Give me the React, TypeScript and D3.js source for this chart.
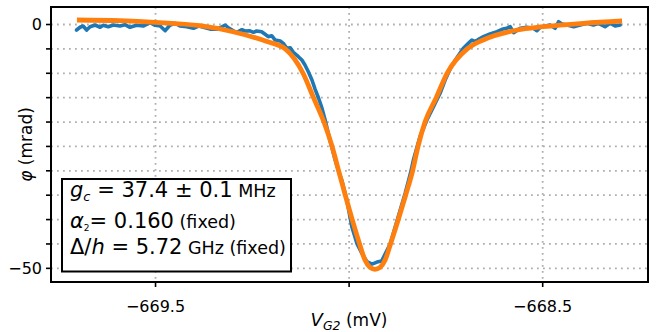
import React from "react";
import * as d3 from "d3";

// Measured phase response (blue)
const measX = [
  -669.704, -669.695, -669.687, -669.678, -669.669, -669.656, -669.643, -669.635, -669.622, -669.609,
  -669.592, -669.579, -669.566, -669.549, -669.532, -669.514, -669.501, -669.488, -669.475, -669.463,
  -669.450, -669.437, -669.419, -669.402, -669.389, -669.376, -669.359, -669.342, -669.333, -669.320,
  -669.312, -669.299, -669.290, -669.277, -669.269, -669.256, -669.247, -669.239, -669.226, -669.217,
  -669.209, -669.200, -669.191, -669.178, -669.170, -669.161, -669.152, -669.144, -669.131, -669.122,
  -669.114, -669.105, -669.096, -669.088, -669.079, -669.071, -669.062, -669.049, -669.036, -669.025,
  -669.019, -669.006, -668.993, -668.980, -668.967, -668.954, -668.941, -668.928, -668.916, -668.907,
  -668.894, -668.881, -668.868, -668.855, -668.842, -668.834, -668.817, -668.799, -668.782, -668.765,
  -668.752, -668.739, -668.722, -668.705, -668.692, -668.683, -668.674, -668.666, -668.653, -668.636,
  -668.618, -668.605, -668.593, -668.584, -668.575, -668.558, -668.541, -668.524, -668.515, -668.506,
  -668.494, -668.481, -668.468, -668.459, -668.450, -668.437, -668.420, -668.403, -668.386, -668.369,
  -668.356, -668.339, -668.326, -668.313, -668.300,
];
const measPhi = [
  -1.13, -0.57, -0.31, -1.13, -0.45, -0.10, -0.57, -0.16, -0.45, -0.10,
  -0.31, -0.04, -0.57, -0.16, -0.31, 0.37, -0.16, -0.31, -1.27, -0.16,
  0.25, -0.31, -0.45, -0.78, -0.31, -0.57, -0.95, -0.98, -0.66, -0.10,
  -0.66, -1.30, -1.60, -1.07, -1.33, -1.30, -1.60, -1.33, -1.48, -2.01,
  -2.50, -2.30, -3.18, -3.38, -3.86, -4.88, -4.76, -5.70, -6.60, -7.28,
  -8.31, -9.74, -11.38, -13.23, -15.07, -16.92, -19.59, -23.89, -27.79, -30.66,
  -31.89, -36.00, -41.47, -44.87, -46.92, -48.65, -49.12, -48.71, -48.51, -47.07,
  -45.02, -41.53, -38.04, -34.56, -30.66, -27.79, -23.01, -19.59, -16.86, -14.11,
  -11.38, -9.13, -6.87, -4.88, -3.86, -3.18, -3.53, -3.04, -2.50, -1.95,
  -1.48, -0.98, -0.78, -0.45, -1.68, -0.78, -0.57, -0.78, -1.27, -0.57,
  -0.31, -0.10, -0.78, 0.57, 0.10, -0.10, -0.45, -0.10, 0.25, -0.10,
  0.25, -0.45, 0.25, -0.31, -0.10,
];

// Fit (orange)
const fitX = [
  -669.703, -669.592, -669.500, -669.385, -669.300, -669.212, -669.165, -669.119, -669.092, -669.065,
  -669.044, -669.027, -669.010, -668.992, -668.973, -668.959, -668.946, -668.933, -668.920, -668.907,
  -668.893, -668.873, -668.854, -668.836, -668.822, -668.804, -668.775, -668.747, -668.695, -668.654,
  -668.566, -668.499, -668.395, -668.295,
];
const fitPhi = [
  0.92, 0.78, 0.45, -0.25, -1.48, -3.5, -5.0, -10.0, -15.0, -20.0,
  -25.0, -30.0, -35.0, -40.0, -45.0, -48.3, -49.8, -50.2, -49.8, -48.3,
  -45.0, -40.0, -35.0, -30.0, -25.0, -20.0, -15.0, -10.0, -5.0, -3.18,
  -1.13, -0.45, 0.25, 0.72,
];

const xTicks = [-669.5, -669.0, -668.5];
const xTickLabels = ["\u2212669.5", "", "\u2212668.5"];
const yTicks = [0, -5, -10, -15, -20, -25, -30, -35, -40, -45, -50];
const yTickLabels: Record<number, string> = { 0: "0", [-50]: "\u221250" };

const W = 657;
const H = 332;
const M = { left: 51, right: 648, top: 7, bottom: 282 };
const FONT = "'DejaVu Sans', sans-serif";

export default function App() {
  const x = d3.scaleLinear().domain([-669.77, -668.228]).range([M.left, M.right]);
  const y = d3.scaleLinear().domain([-52.8, 3.59]).range([M.bottom, M.top]);

  const measLine = d3
    .line<number>()
    .x((_, i) => x(measX[i]))
    .y((d) => y(d))
    .curve(d3.curveLinear);
  const fitLine = d3
    .line<number>()
    .x((_, i) => x(fitX[i]))
    .y((d) => y(d))
    .curve(d3.curveMonotoneX);

  const mathSize = 21;
  const textSize = 17.5;

  return (
    <svg
      width={W}
      height={H}
      style={{ position: "absolute", left: 0, top: 0, background: "white" }}
      fontFamily={FONT}
    >
      <rect x={0} y={0} width={W} height={H} fill="white" />
      <defs>
        <clipPath id="plotclip">
          <rect x={M.left} y={M.top} width={M.right - M.left} height={M.bottom - M.top} />
        </clipPath>
      </defs>
      {/* grid */}
      <g stroke="#b0b0b0" strokeWidth={1.8} strokeDasharray="1.8,4.2">
        {yTicks.map((t) => (
          <line key={"gy" + t} x1={M.left} x2={M.right} y1={y(t)} y2={y(t)} />
        ))}
        {xTicks.map((t) => (
          <line key={"gx" + t} x1={x(t)} x2={x(t)} y1={M.top} y2={M.bottom} />
        ))}
      </g>
      {/* data */}
      <g clipPath="url(#plotclip)">
        <path d={measLine(measPhi) || ""} fill="none" stroke="#1f77b4" strokeWidth={3.6} strokeLinejoin="round" strokeLinecap="round" />
        <path d={fitLine(fitPhi) || ""} fill="none" stroke="#ff7f0e" strokeWidth={4.8} strokeLinejoin="round" strokeLinecap="butt" />
      </g>
      {/* spines */}
      <rect
        x={M.left}
        y={M.top}
        width={M.right - M.left}
        height={M.bottom - M.top}
        fill="none"
        stroke="black"
        strokeWidth={2}
      />
      {/* y ticks */}
      {yTicks.map((t) => (
        <g key={"ty" + t}>
          <line x1={M.left - 5} x2={M.left} y1={y(t)} y2={y(t)} stroke="black" strokeWidth={1.6} />
          {yTickLabels[t] !== undefined && (
            <text x={42} y={y(t)} textAnchor="end" dominantBaseline="central" fontSize={16}>
              {yTickLabels[t]}
            </text>
          )}
        </g>
      ))}
      {/* x ticks */}
      {xTicks.map((t, i) => (
        <g key={"tx" + t}>
          <line x1={x(t)} x2={x(t)} y1={M.bottom} y2={M.bottom + 5} stroke="black" strokeWidth={1.6} />
          {xTickLabels[i] && (
            <text x={x(t)} y={311.5} textAnchor="middle" fontSize={16}>
              {xTickLabels[i]}
            </text>
          )}
        </g>
      ))}
      {/* axis labels */}
      <text x={349} y={326} textAnchor="middle" fontSize={17}>
        <tspan fontStyle="italic" fontSize={18}>V</tspan>
        <tspan fontStyle="italic" fontSize={12.5} dy={4}>G2</tspan>
        <tspan dy={-4}> (mV)</tspan>
      </text>
      <text
        transform={`translate(26, ${(M.top + M.bottom) / 2}) rotate(-90)`}
        textAnchor="middle"
        dominantBaseline="central"
        fontSize={17}
      >
        <tspan fontStyle="italic">φ</tspan>
        <tspan> (mrad)</tspan>
      </text>
      {/* annotation box */}
      <rect x={62} y={179} width={229} height={92.5} fill="white" stroke="black" strokeWidth={2} />
      <text x={70} y={197} fontSize={mathSize}>
        <tspan fontStyle="italic">g</tspan>
        <tspan fontStyle="italic" fontSize={13} dy={4}>c</tspan>
        <tspan dy={-4}> = 37.4 ± 0.1</tspan>
        <tspan fontSize={textSize}> MHz</tspan>
      </text>
      <text x={70} y={228} fontSize={mathSize}>
        <tspan fontStyle="italic">α</tspan>
        <tspan fontSize={9} dy={3}>2</tspan>
        <tspan dy={-3}>= 0.160</tspan>
        <tspan fontSize={textSize}> (fixed)</tspan>
      </text>
      <text x={70} y={254} fontSize={mathSize}>
        <tspan>Δ/</tspan>
        <tspan fontStyle="italic">h</tspan>
        <tspan> = 5.72</tspan>
        <tspan fontSize={textSize}> GHz (fixed)</tspan>
      </text>
    </svg>
  );
}
